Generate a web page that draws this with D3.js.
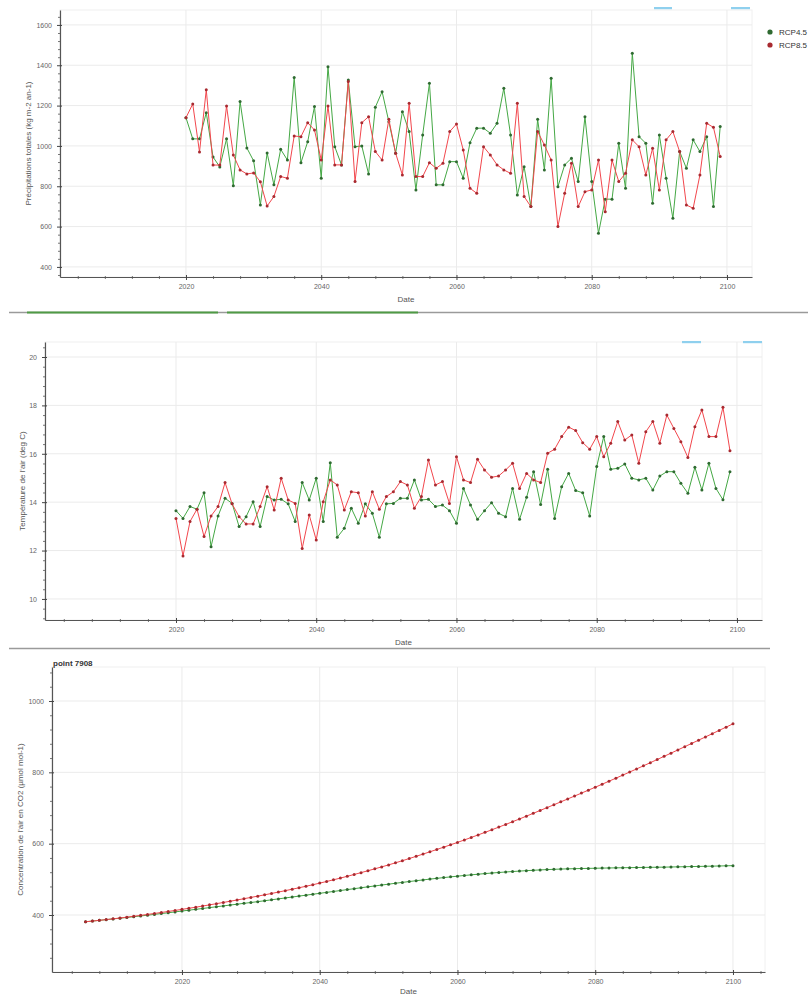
<!DOCTYPE html>
<html>
<head>
<meta charset="utf-8">
<script src="https://cdn.jsdelivr.net/npm/d3@7"></script>
<style>
  body { margin: 0; background: #fff; overflow: hidden; }
  svg { display: block; }
  text { font-family: "Liberation Sans", Arial, sans-serif; }
</style>
</head>
<body>
<svg id="chart" width="808" height="999"></svg>
<script>
// ---- data ----
const seriesNames = ["RCP4.5", "RCP8.5"];
const years = d3.range(2020, 2100);          // 2020 … 2099
const co2Years = d3.range(2006, 2101);       // 2006 … 2100

const precipRcp45 = [1140,1035,1035,1165,945,896,1035,802,1220,990,926,707,965,807,983,930,1339,917,1021,1195,
  840,1393,996,906,1327,996,1000,861,1192,1269,1120,964,1170,1071,782,1054,1311,807,807,922,
  922,840,1016,1088,1088,1063,1112,1286,1054,757,897,699,1132,881,1335,798,906,939,823,1145,
  823,567,736,736,1013,790,1459,1046,1013,716,1054,840,641,972,889,1030,972,1046,699,1096];
const precipRcp85 = [1140,1208,970,1278,905,905,1198,955,881,861,866,822,702,749,848,840,1049,1046,1115,1079,
  930,1198,906,906,1319,823,1115,1145,972,930,1132,964,856,1211,848,848,917,889,914,1071,
  1109,980,790,765,996,955,906,881,864,1211,749,699,1071,1005,930,600,765,914,699,773,
  782,930,674,930,823,864,1030,996,856,988,782,1030,1071,972,707,691,856,1112,1092,947];

const tempRcp45 = [13.65,13.33,13.82,13.71,14.39,12.16,13.43,14.16,13.95,12.99,13.40,14.02,12.99,14.23,
  14.09,14.12,13.93,13.20,14.81,14.09,14.99,13.20,15.63,12.55,12.92,13.75,13.13,13.93,13.54,12.55,
  13.93,13.95,14.16,14.16,14.92,14.09,14.12,13.82,13.88,13.65,13.13,14.57,13.88,13.29,13.65,13.98,
  13.54,13.40,14.57,13.29,14.20,15.26,
  13.90,15.36,13.33,14.64,15.19,14.48,14.39,13.43,15.47,16.71,15.36,15.40,15.58,14.99,14.92,14.99,
  14.50,15.08,15.26,15.26,14.78,14.37,15.44,14.50,15.61,14.57,14.10,15.26];
const tempRcp85 = [13.33,11.78,13.20,13.71,12.58,13.43,13.82,14.81,13.93,13.40,13.10,13.10,13.82,14.64,
  13.68,14.99,14.09,13.95,12.09,13.47,12.44,14.02,14.92,14.71,13.68,14.43,14.39,13.43,14.43,13.71,
  14.23,14.43,14.85,14.71,13.75,14.23,15.74,14.71,14.85,13.95,15.88,14.92,14.81,15.77,15.33,15.03,
  15.08,15.33,15.61,14.57,15.19,14.92,
  14.81,16.02,16.19,16.71,17.10,16.96,16.46,16.19,16.71,15.88,16.44,17.33,16.57,16.78,15.61,16.91,
  17.33,16.44,17.60,17.05,16.50,15.85,17.12,17.81,16.71,16.71,17.92,16.13];

const co2Rcp45 = [381.0,383.0,385.0,387.0,389.1,
  391.1,393.1,395.2,397.3,399.5,401.7,404.0,406.3,408.7,411.1,
  413.5,415.9,418.3,420.7,423.1,425.5,427.9,430.3,432.7,435.0,
  437.5,440.0,442.6,445.2,447.8,450.4,453.0,455.6,458.2,460.8,
  463.4,466.0,468.6,471.2,473.8,476.4,479.0,481.5,484.0,486.5,
  489.0,491.4,493.8,496.1,498.4,500.6,502.8,504.9,506.9,508.9,
  510.8,512.6,514.4,516.1,517.7,519.2,520.6,521.9,523.1,524.3,
  525.4,526.4,527.3,528.1,528.8,529.4,529.9,530.3,530.7,531.1,
  531.5,531.9,532.2,532.5,532.8,533.1,533.4,533.7,534.0,534.2,
  534.6,535.0,535.4,535.8,536.2,536.6,537.0,537.4,537.9,538.4];
const co2Rcp85 = [381.0,383.0,385.0,387.1,389.3,
  391.6,394.0,396.5,399.0,401.6,404.3,407.1,409.9,412.8,415.8,
  418.8,421.9,425.1,428.4,431.7,435.1,438.6,442.1,445.7,449.3,
  452.9,456.6,460.4,464.3,468.3,472.3,476.4,480.6,484.9,489.4,
  494.0,498.7,503.5,508.5,513.6,518.8,524.1,529.5,534.9,540.5,
  546.3,552.2,558.3,564.5,570.8,577.2,583.7,590.2,596.8,603.5,
  610.4,617.4,624.5,631.7,639.0,646.4,653.9,661.5,669.2,677.1,
  685.0,693.0,701.0,709.1,717.2,725.3,733.5,741.7,749.9,758.2,
  766.6,775.1,783.6,792.2,800.8,809.5,818.2,827.0,835.9,844.8,
  853.8,862.8,871.9,881.0,890.1,899.2,908.4,917.6,926.7,935.9];

const xMajorTicks = [2020, 2040, 2060, 2080, 2100];
const precipTicks = [400, 600, 800, 1000, 1200, 1400, 1600];
const tempTicks = [10, 12, 14, 16, 18, 20];
const co2Ticks = [400, 600, 800, 1000];

// ---- styling ----
const colors = { line: ["#45a845", "#f2474d"], marker: ["#2f6a31", "#a82a30"] };
const svg = d3.select("#chart");

function drawPanel(o) {
  const x = d3.scaleLinear().domain(o.xDomain).range([o.left, o.right]);
  const y = d3.scaleLinear().domain(o.yDomain).range([o.bottom, o.top]);
  const g = svg.append("g");

  // faint plot frame
  g.append("rect").attr("x", o.left).attr("y", o.top)
    .attr("width", o.right - o.left).attr("height", o.bottom - o.top)
    .attr("fill", "none").attr("stroke", "#f0f0f0");

  // grid
  g.append("g").selectAll("line").data(o.yTicks).join("line")
    .attr("x1", o.left).attr("x2", o.right)
    .attr("y1", d => y(d)).attr("y2", d => y(d))
    .attr("stroke", "#ebebeb");
  g.append("g").selectAll("line").data(xMajorTicks).join("line")
    .attr("y1", o.top).attr("y2", o.bottom)
    .attr("x1", d => x(d)).attr("x2", d => x(d))
    .attr("stroke", "#ebebeb");

  // minor ticks
  const xMinor = d3.range(2004, o.xDomain[1], 4).filter(v => !xMajorTicks.includes(v));
  g.append("g").attr("transform", `translate(0,${o.bottom})`)
    .call(d3.axisBottom(x).tickValues(xMinor).tickSize(2).tickSizeOuter(0).tickFormat(""))
    .call(a => a.select(".domain").remove())
    .call(a => a.selectAll(".tick line").attr("stroke", "#777").attr("y1", -1));
  const yMinor = d3.range(o.yMinorStart, o.yDomain[1], o.yMinorStep)
    .filter(v => !o.yTicks.some(t => Math.abs(t - v) < 1e-6));
  g.append("g").attr("transform", `translate(${o.left},0)`)
    .call(d3.axisLeft(y).tickValues(yMinor).tickSize(2).tickSizeOuter(0).tickFormat(""))
    .call(a => a.select(".domain").remove())
    .call(a => a.selectAll(".tick line").attr("stroke", "#777").attr("x1", 1));

  // major axes
  const xa = g.append("g").attr("transform", `translate(0,${o.bottom})`)
    .call(d3.axisBottom(x).tickValues(xMajorTicks).tickSize(3).tickSizeOuter(0).tickPadding(4).tickFormat(d3.format("d")));
  const ya = g.append("g").attr("transform", `translate(${o.left},0)`)
    .call(d3.axisLeft(y).tickValues(o.yTicks).tickSize(3).tickSizeOuter(0).tickPadding(5).tickFormat(d3.format("d")));
  [xa, ya].forEach(a => {
    a.select(".domain").attr("stroke", "#555").attr("stroke-width", 1.2);
    a.selectAll(".tick line").attr("stroke", "#444");
    a.selectAll(".tick text").attr("fill", "#666").attr("font-size", 7);
  });
  xa.selectAll(".tick line").attr("y1", -2);
  ya.selectAll(".tick line").attr("x1", 2);

  // axis titles
  g.append("text").attr("x", (o.left + o.right) / 2).attr("y", o.xTitleY)
    .attr("text-anchor", "middle").attr("font-size", 8).attr("fill", "#555").text("Date");
  g.append("text").attr("transform", `translate(${o.yTitleX},${(o.top + o.bottom) / 2}) rotate(-90)`)
    .attr("text-anchor", "middle").attr("font-size", 8).attr("fill", "#555").text(o.yTitle);

  // series
  const line = d3.line().x(d => x(d[0])).y(d => y(d[1]));
  o.series.forEach((vals, k) => {
    const pts = o.years.map((yr, i) => [yr, vals[i]]);
    g.append("path").datum(pts).attr("d", line)
      .attr("fill", "none").attr("stroke", colors.line[k]).attr("stroke-width", 1);
    g.append("g").selectAll("circle").data(pts).join("circle")
      .attr("cx", d => x(d[0])).attr("cy", d => y(d[1])).attr("r", 1.5)
      .attr("fill", colors.marker[k]);
  });
  return { x, y };
}

// precipitation
drawPanel({
  left: 60, right: 752, top: 10, bottom: 277,
  xDomain: [2001.37, 2103.7], yDomain: [350, 1674],
  yTicks: precipTicks, yMinorStart: 360, yMinorStep: 40,
  years: years, series: [precipRcp45, precipRcp85],
  xTitleY: 302, yTitleX: 31,
  yTitle: "Précipitations totales (kg m-2 an-1)"
});

// air temperature
drawPanel({
  left: 45, right: 762, top: 342, bottom: 620,
  xDomain: [2001.32, 2103.57], yDomain: [9.13, 20.62],
  yTicks: tempTicks, yMinorStart: 9.2, yMinorStep: 0.4,
  years: years, series: [tempRcp45, tempRcp85],
  xTitleY: 645, yTitleX: 25,
  yTitle: "Température de l'air (deg C)"
});

// CO2 concentration
drawPanel({
  left: 52, right: 765, top: 667, bottom: 972,
  xDomain: [2001.13, 2104.65], yDomain: [240.2, 1095.3],
  yTicks: co2Ticks, yMinorStart: 280, yMinorStep: 40,
  years: co2Years, series: [co2Rcp45, co2Rcp85],
  xTitleY: 994, yTitleX: 23,
  yTitle: "Concentration de l'air en CO2 (µmol mol-1)"
});

svg.append("text").attr("x", 53).attr("y", 666).attr("font-size", 8)
  .attr("font-weight", "bold").attr("fill", "#333").text("point 7908");

// legend
seriesNames.forEach((name, k) => {
  const ly = 32 + k * 13;
  svg.append("circle").attr("cx", 770).attr("cy", ly).attr("r", 2.6).attr("fill", colors.marker[k]);
  svg.append("text").attr("x", 779).attr("y", ly + 3).attr("font-size", 8).attr("fill", "#333").text(name);
});

// toolbar hints and separators
const chrome = svg.append("g");
[[654, 8, 18], [731, 8, 19], [682, 342, 19], [743, 342, 19]].forEach(([bx, by, bw]) => {
  chrome.append("rect").attr("x", bx).attr("y", by - 1).attr("width", bw).attr("height", 2.2)
    .attr("fill", "#8fd0ee");
});
chrome.append("line").attr("x1", 9).attr("x2", 808).attr("y1", 312.5).attr("y2", 312.5)
  .attr("stroke", "#9a9a9a").attr("stroke-width", 1.5);
[[27, 218], [227, 418]].forEach(([a, b]) => {
  chrome.append("line").attr("x1", a).attr("x2", b).attr("y1", 312.5).attr("y2", 312.5)
    .attr("stroke", "#4f9a45").attr("stroke-width", 2);
});
chrome.append("line").attr("x1", 9).attr("x2", 770).attr("y1", 648.5).attr("y2", 648.5)
  .attr("stroke", "#9a9a9a").attr("stroke-width", 1.5);
</script>
</body>
</html>
